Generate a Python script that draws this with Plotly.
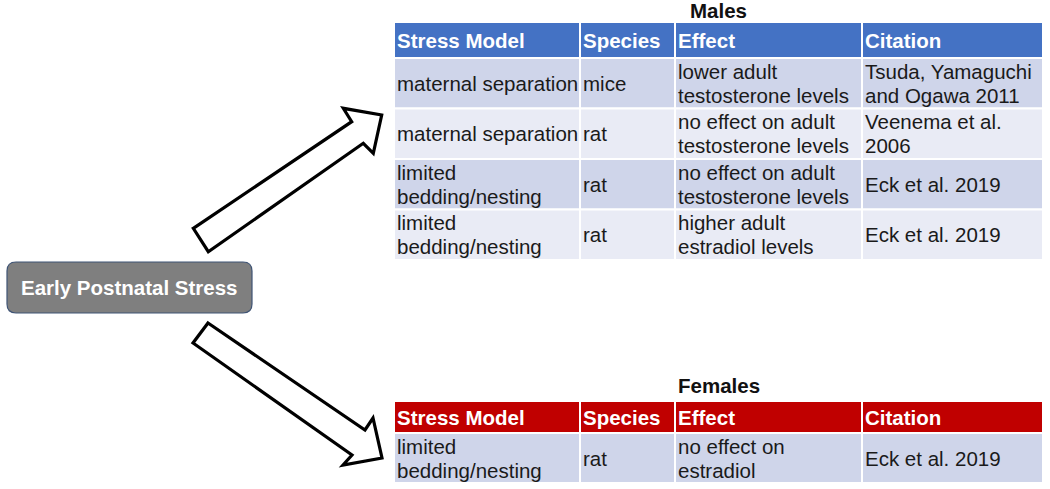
import plotly.graph_objects as go

# ---------------- data ----------------
columns = ["Stress Model", "Species", "Effect", "Citation"]

males_model = ["maternal separation", "maternal separation",
               "limited\nbedding/nesting", "limited\nbedding/nesting"]
males_species = ["mice", "rat", "rat", "rat"]
males_effect = ["lower adult\ntestosterone levels",
                "no effect on adult\ntestosterone levels",
                "no effect on adult\ntestosterone levels",
                "higher adult\nestradiol levels"]
males_citation = ["Tsuda, Yamaguchi\nand Ogawa 2011", "Veenema et al.\n2006",
                  "Eck et al. 2019", "Eck et al. 2019"]

females_model = ["limited\nbedding/nesting"]
females_species = ["rat"]
females_effect = ["no effect on\nestradiol"]
females_citation = ["Eck et al. 2019"]

source_label = "Early Postnatal Stress"
males_title = "Males"
females_title = "Females"

# ---------------- layout constants ----------------
W, H = 1050, 489
FONT = "Liberation Sans, Arial, sans-serif"
FS = 20.5
LINE = 24
TXT = "#1a1a1a"
COL_EDGES = [394, 580, 675, 862, 1043]
BLUE = "#4472C4"
RED = "#C00000"
ROW_A = "#CFD5EA"
ROW_B = "#E9EBF5"

shapes = []
annotations = []


def add_text(x, y, s, bold=False, color=TXT, xanchor="left"):
    lines = s.split("\n")
    n = len(lines)
    for i, line in enumerate(lines):
        yy = y + (i - (n - 1) / 2) * LINE
        annotations.append(dict(
            x=x, y=yy, xref="x", yref="y",
            text=f"<b>{line}</b>" if bold else line,
            showarrow=False, xanchor=xanchor, yanchor="middle",
            font=dict(family=FONT, size=FS, color=color)))


def add_rect(x0, y0, x1, y1, fill):
    shapes.append(dict(type="rect", xref="x", yref="y", x0=x0, y0=y0, x1=x1, y1=y1,
                       fillcolor=fill, line=dict(color="white", width=2), layer="below"))


def add_table(title, title_y, header_top, header_bottom, row_h, cols, header_color, row_colors):
    add_text((COL_EDGES[0] + COL_EDGES[-1]) / 2, title_y, title, bold=True,
             color="#111111", xanchor="center")
    for c, name in enumerate(columns):
        x0, x1 = COL_EDGES[c], COL_EDGES[c + 1]
        add_rect(x0, header_top, x1, header_bottom, header_color)
        add_text(x0 + 0.5, (header_top + header_bottom) / 2, name, bold=True, color="white")
    nrows = len(cols[0])
    for r in range(nrows):
        y0 = header_bottom + r * row_h
        y1 = y0 + row_h
        for c in range(len(columns)):
            x0, x1 = COL_EDGES[c], COL_EDGES[c + 1]
            add_rect(x0, y0, x1, y1, row_colors[r % len(row_colors)])
            add_text(x0 + 0.5, (y0 + y1) / 2, cols[c][r])


add_table(males_title, 10, 22, 58, 50.5,
          [males_model, males_species, males_effect, males_citation],
          BLUE, [ROW_A, ROW_B])
add_table(females_title, 385, 401, 433, 50,
          [females_model, females_species, females_effect, females_citation],
          RED, [ROW_A])

# source box (rounded rectangle)
bx0, by0, bx1, by1, r = 7, 262, 252, 313, 9
path = (f"M {bx0+r},{by0} L {bx1-r},{by0} Q {bx1},{by0} {bx1},{by0+r} "
        f"L {bx1},{by1-r} Q {bx1},{by1} {bx1-r},{by1} L {bx0+r},{by1} "
        f"Q {bx0},{by1} {bx0},{by1-r} L {bx0},{by0+r} Q {bx0},{by0} {bx0+r},{by0} Z")
shapes.append(dict(type="path", xref="x", yref="y", path=path,
                   fillcolor="#7F7F7F", line=dict(color="#3F5475", width=1.2)))
add_text((bx0 + bx1) / 2, (by0 + by1) / 2, source_label, bold=True,
         color="white", xanchor="center")

# arrows
up_arrow = [(193.3, 228.3), (351.7, 121.7), (343.3, 108.3), (381.7, 115),
            (373.3, 153.3), (363.3, 143.3), (208.3, 251.7)]
down_arrow = [(208, 323), (365, 430), (373, 418), (382, 458),
              (343, 465), (352, 455), (193, 343)]
for pts in (up_arrow, down_arrow):
    p = "M " + " L ".join(f"{x},{y}" for x, y in pts) + " Z"
    shapes.append(dict(type="path", xref="x", yref="y", path=p,
                       fillcolor="white", line=dict(color="black", width=3.2)))

fig = go.Figure()
fig.add_trace(go.Scatter(x=[0, W], y=[0, H], mode="markers",
                         marker=dict(opacity=0), hoverinfo="skip", showlegend=False))
fig.update_layout(
    width=W, height=H, margin=dict(l=0, r=0, t=0, b=0),
    paper_bgcolor="white", plot_bgcolor="white",
    xaxis=dict(range=[0, W], visible=False, fixedrange=True),
    yaxis=dict(range=[H, 0], visible=False, fixedrange=True),
    shapes=shapes, annotations=annotations, showlegend=False,
)
fig.write_html("out.html", config={"displayModeBar": False},
               post_script="document.body.style.margin='0';document.body.style.overflow='hidden';")
